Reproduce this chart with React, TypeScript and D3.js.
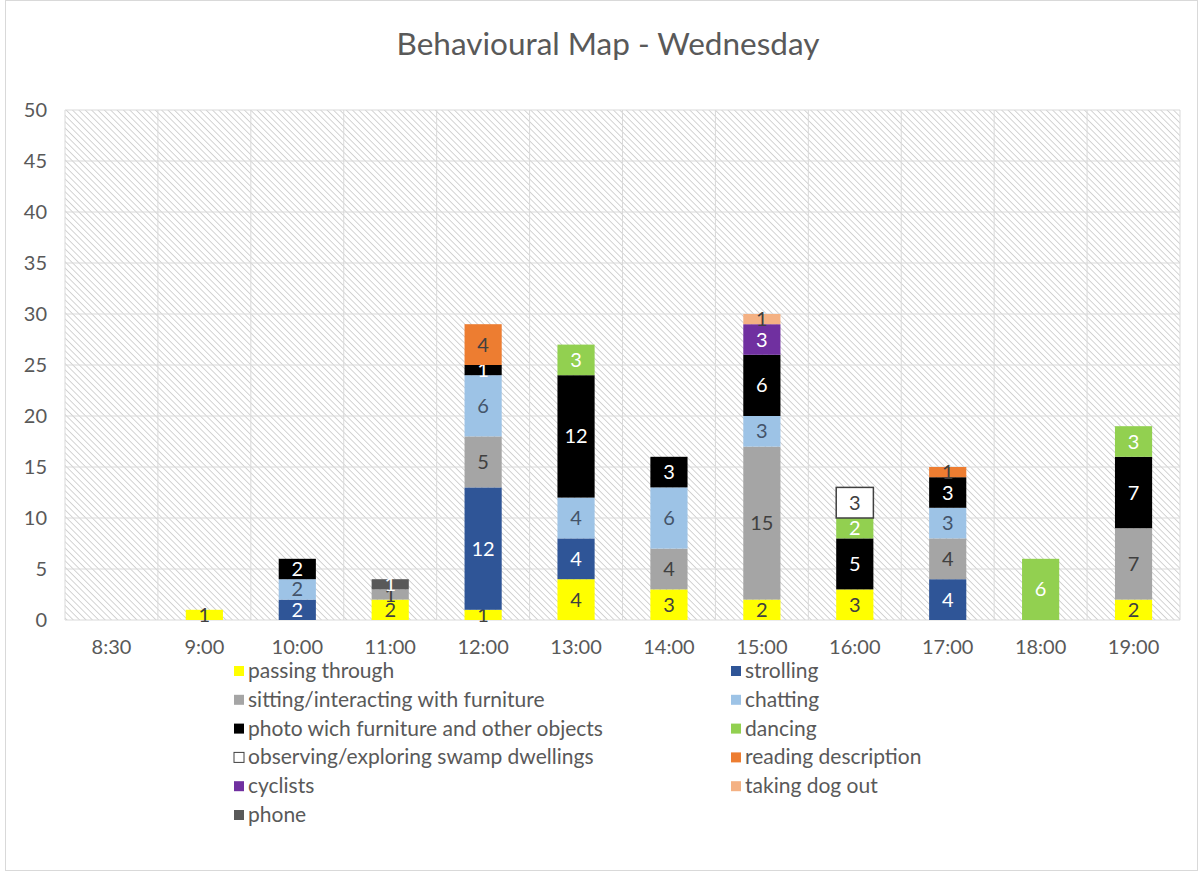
import React from "react";
import * as d3 from "d3";

const times = ["8:30", "9:00", "10:00", "11:00", "12:00", "13:00", "14:00", "15:00", "16:00", "17:00", "18:00", "19:00"];

const seriesNames = [
  "passing through",
  "strolling",
  "sitting/interacting with furniture",
  "chatting",
  "photo wich furniture and other objects",
  "dancing",
  "observing/exploring swamp dwellings",
  "reading description",
  "cyclists",
  "taking dog out",
  "phone",
];

// values per time slot, same order as times
const passing = [0, 1, 0, 2, 1, 4, 3, 2, 3, 0, 0, 2];
const strolling = [0, 0, 2, 0, 12, 4, 0, 0, 0, 4, 0, 0];
const sitting = [0, 0, 0, 1, 5, 0, 4, 15, 0, 4, 0, 7];
const chatting = [0, 0, 2, 0, 6, 4, 6, 3, 0, 3, 0, 0];
const photo = [0, 0, 2, 0, 1, 12, 3, 6, 5, 3, 0, 7];
const dancing = [0, 0, 0, 0, 0, 3, 0, 0, 2, 0, 6, 3];
const observing = [0, 0, 0, 0, 0, 0, 0, 0, 3, 0, 0, 0];
const reading = [0, 0, 0, 0, 4, 0, 0, 0, 0, 1, 0, 0];
const cyclists = [0, 0, 0, 0, 0, 0, 0, 3, 0, 0, 0, 0];
const dog = [0, 0, 0, 0, 0, 0, 0, 1, 0, 0, 0, 0];
const phone = [0, 0, 0, 1, 0, 0, 0, 0, 0, 0, 0, 0];

const allValues = [passing, strolling, sitting, chatting, photo, dancing, observing, reading, cyclists, dog, phone];

const colors = ["#FFFF00", "#2F5597", "#A5A5A5", "#9DC3E6", "#000000", "#92D050", "#FFFFFF", "#ED7D31", "#7030A0", "#F4B183", "#595959"];
const labelColors = ["#404040", "#FFFFFF", "#404040", "#44546A", "#FFFFFF", "#FFFFFF", "#404040", "#404040", "#FFFFFF", "#404040", "#FFFFFF"];

const yTicks = [0, 5, 10, 15, 20, 25, 30, 35, 40, 45, 50];

const font = "Lato, 'Open Sans', sans-serif";

export default function App() {
  const width = 1203;
  const height = 871;
  const left = 65;
  const right = 1180;
  const top = 110;
  const bottom = 620;

  const table = times.map((t, i) => {
    const row: any = { time: t };
    seriesNames.forEach((s, j) => (row[s] = allValues[j][i]));
    return row;
  });

  const stacked = d3.stack().keys(seriesNames)(table);

  const x = d3.scaleBand().domain(times).range([left, right]).paddingInner(0.6).paddingOuter(0.3);
  const y = d3.scaleLinear().domain([0, 50]).range([bottom, top]);
  const step = x.step();

  return (
    <svg width={width} height={height} style={{ position: "absolute", left: 0, top: 0 }}>
      <defs>
        <pattern id="hatch" width="4.5" height="4.5" patternUnits="userSpaceOnUse" patternTransform="rotate(-45)">
          <rect width="4.5" height="4.5" fill="#ffffff" />
          <line x1="0" y1="0" x2="0" y2="4.5" stroke="#cccccc" strokeWidth="1.7" />
        </pattern>
      </defs>
      <rect x={0} y={0} width={width} height={height} fill="#fff" />
      <rect x={5.5} y={0.5} width={width - 11} height={height - 1} fill="none" stroke="#d9d9d9" />

      <text x={608} y={55} textAnchor="middle" fontFamily={font} fontSize={31.5} fill="#595959">
        Behavioural Map - Wednesday
      </text>

      <rect x={left} y={top} width={right - left} height={bottom - top} fill="url(#hatch)" />

      {yTicks.map((t) => (
        <g key={t}>
          <line x1={left} x2={right} y1={y(t)} y2={y(t)} stroke="#d9d9d9" />
          <text x={47} y={y(t) + 7} textAnchor="end" fontFamily={font} fontSize={20} fill="#595959">
            {t}
          </text>
        </g>
      ))}
      {times.map((t, i) => (
        <line key={t} x1={left + i * step} x2={left + i * step} y1={top} y2={bottom} stroke="#d9d9d9" />
      ))}
      <line x1={right} x2={right} y1={top} y2={bottom} stroke="#d9d9d9" />

      {stacked.map((layer, j) =>
        layer.map((d, i) => {
          const v = d[1] - d[0];
          if (v <= 0) return null;
          const bx = x(times[i]) as number;
          const y0 = y(d[0]);
          const y1 = y(d[1]);
          return (
            <g key={j + "-" + i}>
              <rect
                x={bx}
                y={y1}
                width={x.bandwidth()}
                height={y0 - y1}
                fill={colors[j]}
                stroke={j === 6 ? "#404040" : "none"}
                strokeWidth={1.5}
              />
              <text
                x={bx + x.bandwidth() / 2}
                y={(y0 + y1) / 2 + 7}
                textAnchor="middle"
                fontFamily={font}
                fontSize={20}
                fill={labelColors[j]}
              >
                {v}
              </text>
            </g>
          );
        })
      )}

      {times.map((t) => (
        <text key={t} x={(x(t) as number) + x.bandwidth() / 2} y={654} textAnchor="middle" fontFamily={font} fontSize={20} fill="#595959">
          {t}
        </text>
      ))}

      {seriesNames.map((s, j) => {
        const col = j % 2;
        const row = Math.floor(j / 2);
        const lx = col === 0 ? 234 : 731;
        const ly = 671 + row * 28.8;
        return (
          <g key={s}>
            <rect
              x={lx}
              y={ly - 5}
              width={10}
              height={10}
              fill={colors[j]}
              stroke={j === 6 ? "#404040" : "none"}
            />
            <text x={lx + 14} y={ly + 7} fontFamily={font} fontSize={21} fill="#595959">
              {s}
            </text>
          </g>
        );
      })}
    </svg>
  );
}
